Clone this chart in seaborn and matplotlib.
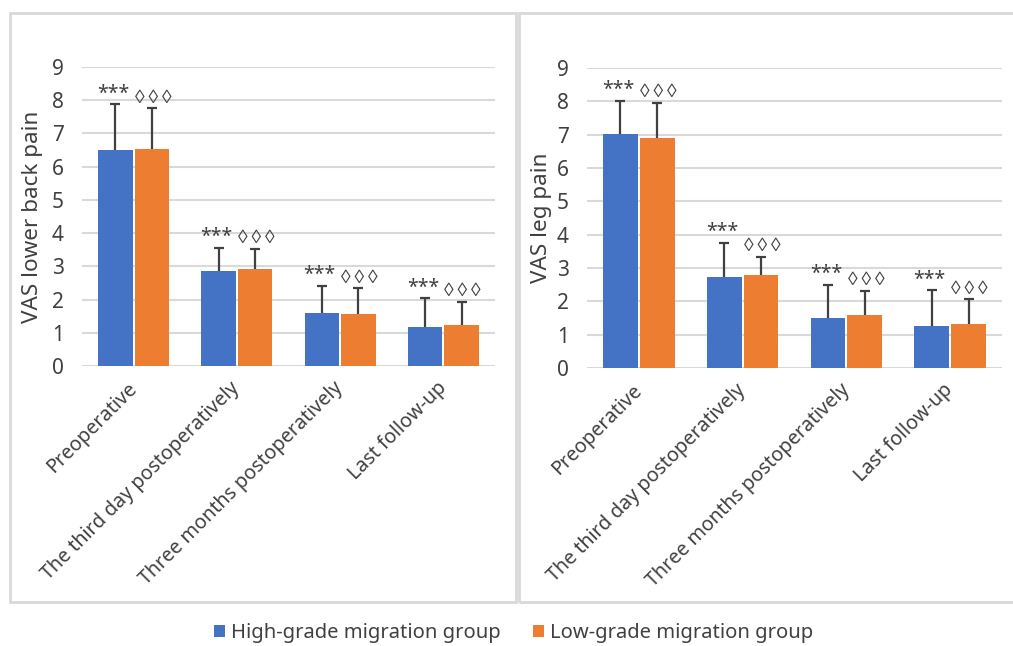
import matplotlib
matplotlib.use("Agg")
import matplotlib.pyplot as plt
from matplotlib.patches import Rectangle, Patch
import seaborn as sns
import pandas as pd
import numpy as np

categories = ["Preoperative", "The third day postoperatively",
              "Three months postoperatively", "Last follow-up"]
groups = ["High-grade migration group", "Low-grade migration group"]

back_high = [6.51, 2.87, 1.61, 1.18]
back_high_sd = [1.37, 0.68, 0.80, 0.86]
back_low = [6.54, 2.91, 1.58, 1.22]
back_low_sd = [1.22, 0.61, 0.76, 0.71]

leg_high = [7.01, 2.74, 1.49, 1.27]
leg_high_sd = [1.01, 1.02, 1.00, 1.06]
leg_low = [6.90, 2.78, 1.60, 1.31]
leg_low_sd = [1.06, 0.56, 0.72, 0.75]

marks = ["***", "\u25ca\u2009\u25ca\u2009\u25ca"]
colors = ["#4472C4", "#ED7D31"]
text_col = "#404040"

sns.set_theme(style="white")
plt.rcParams["font.family"] = ["Noto Sans", "DejaVu Sans"]

fig = plt.figure(figsize=(10.13, 6.46), dpi=100)

panels = [
    ("VAS lower back pain", back_high, back_high_sd, back_low, back_low_sd,
     [82 / 1013, 1 - 366 / 646, 413 / 1013, 299 / 646], -0.094),
    ("VAS leg pain", leg_high, leg_high_sd, leg_low, leg_low_sd,
     [587 / 1013, 1 - 368 / 646, 415 / 1013, 300 / 646], -0.084),
]

for ylabel, hi, hi_sd, lo, lo_sd, rect, lx in panels:
    ax = fig.add_axes(rect)
    df = pd.DataFrame({
        "cat": categories * 2,
        "group": [groups[0]] * 4 + [groups[1]] * 4,
        "val": hi + lo,
    })
    sns.barplot(data=df, x="cat", y="val", hue="group", hue_order=groups,
                order=categories, palette=colors, width=0.71, gap=0.06,
                errorbar=None, legend=False, ax=ax, saturation=1, linewidth=0)
    sds = [hi_sd, lo_sd]
    bar_conts = list(ax.containers)
    for gi, cont in enumerate(bar_conts):
        xs = [b.get_x() + b.get_width() / 2 for b in cont]
        hs = [b.get_height() for b in cont]
        sd = sds[gi]
        eb = ax.errorbar(xs, hs, yerr=[np.zeros(len(sd)), sd], fmt="none",
                         ecolor="#404040", elinewidth=1.6, capsize=3.3,
                         capthick=1.6, zorder=3)
        # hide the lower caps (error bars drawn upward only)
        eb.lines[1][0].set_visible(False)
        for x, h, s in zip(xs, hs, sd):
            if gi == 0:
                ax.text(x - 0.02, h + s + 0.02, marks[gi], ha="center",
                        va="bottom", fontsize=14, color=text_col,
                        family=["Noto Sans", "DejaVu Sans"])
            else:
                ax.text(x + 0.01, h + s + 0.05, marks[gi], ha="center",
                        va="bottom", fontsize=14, color=text_col,
                        family=["Liberation Sans", "DejaVu Sans"])
    ax.set_ylim(0, 9)
    ax.set_xlim(-0.5, 3.5)
    ax.set_yticks(range(0, 10))
    ax.yaxis.grid(True, color="#d9d9d9", linewidth=1.5)
    ax.set_axisbelow(True)
    for s in ["top", "right", "left", "bottom"]:
        ax.spines[s].set_visible(False)
    ax.tick_params(axis="both", length=0, labelcolor=text_col)
    ax.tick_params(axis="y", pad=13, labelsize=15)
    ax.set_xlabel("")
    ax.set_ylabel(ylabel, fontsize=16.2, color=text_col)
    ax.yaxis.set_label_coords(lx, 0.5)
    ax.set_xticks(range(4))
    ax.set_xticklabels(categories, rotation=45, ha="right", va="center",
                       rotation_mode="anchor", fontsize=14.2)
    ax.tick_params(axis="x", pad=14)

# panel borders
fig.add_artist(Rectangle((10 / 1013, 1 - 602 / 646), 506 / 1013, 589 / 646,
                         transform=fig.transFigure, fill=False,
                         edgecolor="#d9d9d9", linewidth=2))
fig.add_artist(Rectangle((519 / 1013, 1 - 602 / 646), 500 / 1013, 589 / 646,
                         transform=fig.transFigure, fill=False,
                         edgecolor="#d9d9d9", linewidth=2))

handles = [Patch(facecolor=c, edgecolor="none") for c in colors]
fig.legend(handles, groups, loc="center",
           bbox_to_anchor=(514 / 1013, 1 - 633 / 646),
           ncol=2, frameon=False, fontsize=14.5, handlelength=0.55,
           handleheight=0.55, handletextpad=0.3, columnspacing=1.6,
           labelcolor=text_col)

fig.savefig("out.png", dpi=100)
